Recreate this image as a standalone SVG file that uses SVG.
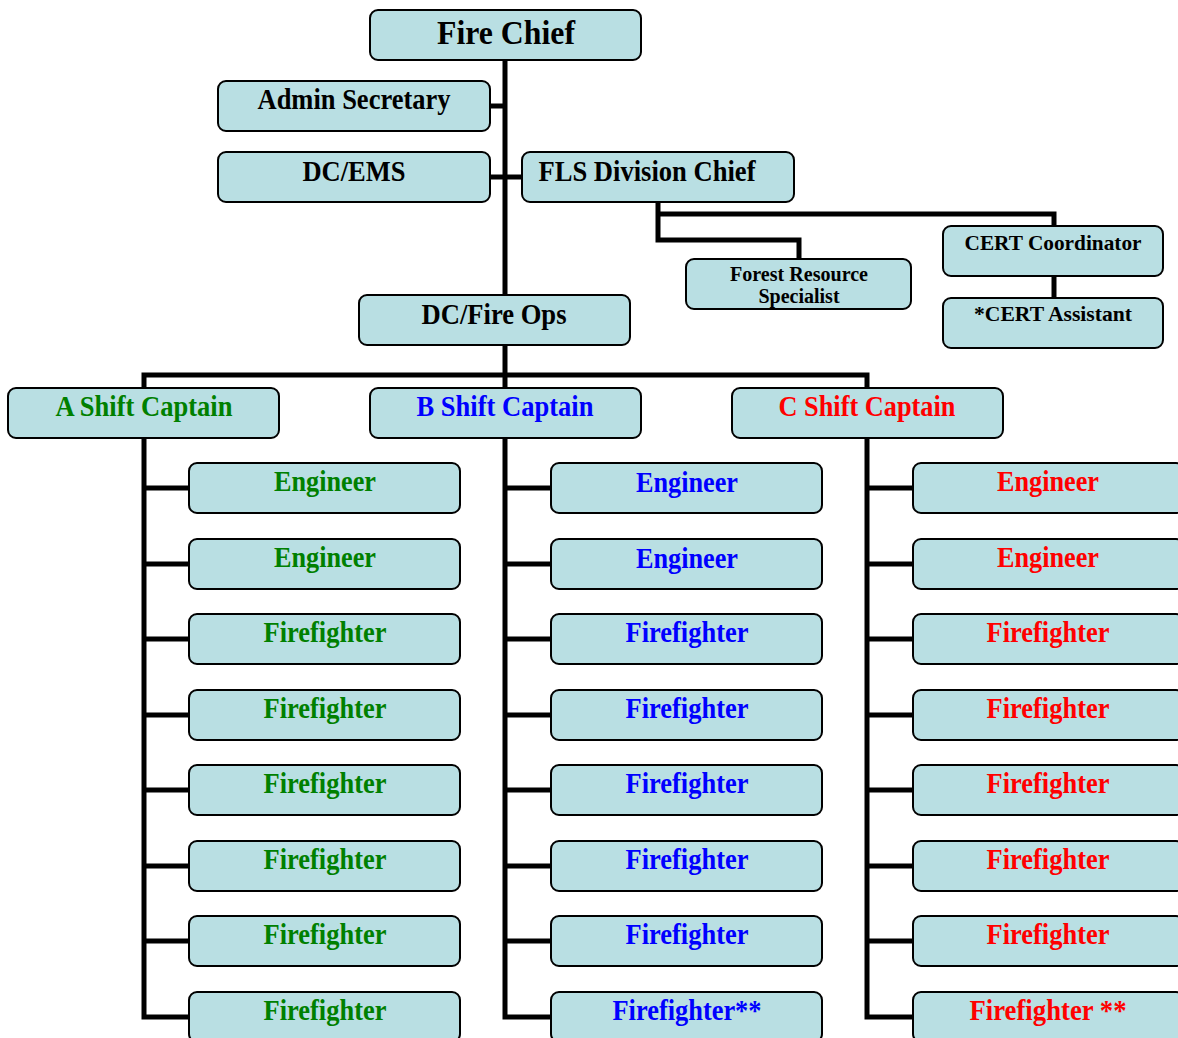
<svg xmlns="http://www.w3.org/2000/svg" width="1178" height="1038" viewBox="0 0 1178 1038">
<style>
.box{fill:#b9dfe3;stroke:#000;stroke-width:2}
.t{font-family:"Liberation Serif","Times New Roman",serif;font-weight:bold;text-anchor:middle;fill:#000}
.s26{font-size:29px}
.s20{font-size:20px}
.g{fill:#008000}.b{fill:#0000ff}.r{fill:#ff0000}
.c{fill:none;stroke:#000;stroke-width:5;stroke-linejoin:miter}
</style>
<rect width="1178" height="1038" fill="#fff"/>
<g id="connectors">
<path class="c" d="M505 60 V295"/>
<path class="c" d="M490 106 H505"/>
<path class="c" d="M490 177 H522"/>
<path class="c" d="M658 202 V240 H799 V259"/>
<path class="c" d="M658 214 H1054 V226"/>
<path class="c" d="M1054 276 V298"/>
<path class="c" d="M505 345 V388"/>
<path class="c" d="M144 388 V375 H867 V388"/>
<path class="c" d="M144 438 V1017 H189"/>
<path class="c" d="M144 488 H189 M144 564 H189 M144 639 H189 M144 715 H189 M144 790 H189 M144 866 H189 M144 941 H189"/>
<path class="c" d="M505 438 V1017 H551"/>
<path class="c" d="M505 488 H551 M505 564 H551 M505 639 H551 M505 715 H551 M505 790 H551 M505 866 H551 M505 941 H551"/>
<path class="c" d="M867 438 V1017 H913"/>
<path class="c" d="M867 488 H913 M867 564 H913 M867 639 H913 M867 715 H913 M867 790 H913 M867 866 H913 M867 941 H913"/>
</g>
<g id="fire-chief"><rect class="box" x="370" y="10" width="271" height="50" rx="8"/><text class="t" x="506" y="44" font-size="34" textLength="138" lengthAdjust="spacingAndGlyphs">Fire Chief</text></g>
<g id="admin-secretary"><rect class="box" x="218" y="81" width="272" height="50" rx="8"/><text class="t s26" x="354" y="109" textLength="193" lengthAdjust="spacingAndGlyphs">Admin Secretary</text></g>
<g id="dc-ems"><rect class="box" x="218" y="152" width="272" height="50" rx="8"/><text class="t s26" x="354" y="181" textLength="103" lengthAdjust="spacingAndGlyphs">DC/EMS</text></g>
<g id="fls-division-chief"><rect class="box" x="522" y="152" width="272" height="50" rx="8"/><text class="t s26" x="647" y="181" textLength="217" lengthAdjust="spacingAndGlyphs">FLS Division Chief</text></g>
<g id="forest-resource-specialist"><rect class="box" x="686" y="259" width="225" height="50" rx="8"/><text class="t s20" x="799" y="281" textLength="138" lengthAdjust="spacingAndGlyphs">Forest Resource</text><text class="t s20" x="799" y="303">Specialist</text></g>
<g id="cert-coordinator"><rect class="box" x="943" y="226" width="220" height="50" rx="8"/><text class="t" x="1053" y="250" font-size="22" textLength="177" lengthAdjust="spacingAndGlyphs">CERT Coordinator</text></g>
<g id="cert-assistant"><rect class="box" x="943" y="298" width="220" height="50" rx="8"/><text class="t" x="1053" y="321" font-size="22" textLength="158" lengthAdjust="spacingAndGlyphs">*CERT Assistant</text></g>
<g id="dc-fire-ops"><rect class="box" x="359" y="295" width="271" height="50" rx="8"/><text class="t s26" x="494" y="324" textLength="145" lengthAdjust="spacingAndGlyphs">DC/Fire Ops</text></g>
<g id="a-shift-captain"><rect class="box" x="8" y="388" width="271" height="50" rx="8"/><text class="t s26 g" x="144" y="416" textLength="177" lengthAdjust="spacingAndGlyphs">A Shift Captain</text></g>
<g id="b-shift-captain"><rect class="box" x="370" y="388" width="271" height="50" rx="8"/><text class="t s26 b" x="505" y="416" textLength="177" lengthAdjust="spacingAndGlyphs">B Shift Captain</text></g>
<g id="c-shift-captain"><rect class="box" x="732" y="388" width="271" height="50" rx="8"/><text class="t s26 r" x="867" y="416" textLength="177" lengthAdjust="spacingAndGlyphs">C Shift Captain</text></g>
<g id="a-engineer-1"><rect class="box" x="189" y="463" width="271" height="50" rx="8"/><text class="t s26 g" x="325" y="491" textLength="102" lengthAdjust="spacingAndGlyphs">Engineer</text></g>
<g id="a-engineer-2"><rect class="box" x="189" y="539" width="271" height="50" rx="8"/><text class="t s26 g" x="325" y="567" textLength="102" lengthAdjust="spacingAndGlyphs">Engineer</text></g>
<g id="a-firefighter-1"><rect class="box" x="189" y="614" width="271" height="50" rx="8"/><text class="t s26 g" x="325" y="642" textLength="123" lengthAdjust="spacingAndGlyphs">Firefighter</text></g>
<g id="a-firefighter-2"><rect class="box" x="189" y="690" width="271" height="50" rx="8"/><text class="t s26 g" x="325" y="718" textLength="123" lengthAdjust="spacingAndGlyphs">Firefighter</text></g>
<g id="a-firefighter-3"><rect class="box" x="189" y="765" width="271" height="50" rx="8"/><text class="t s26 g" x="325" y="793" textLength="123" lengthAdjust="spacingAndGlyphs">Firefighter</text></g>
<g id="a-firefighter-4"><rect class="box" x="189" y="841" width="271" height="50" rx="8"/><text class="t s26 g" x="325" y="869" textLength="123" lengthAdjust="spacingAndGlyphs">Firefighter</text></g>
<g id="a-firefighter-5"><rect class="box" x="189" y="916" width="271" height="50" rx="8"/><text class="t s26 g" x="325" y="944" textLength="123" lengthAdjust="spacingAndGlyphs">Firefighter</text></g>
<g id="a-firefighter-6"><rect class="box" x="189" y="992" width="271" height="50" rx="8"/><text class="t s26 g" x="325" y="1020" textLength="123" lengthAdjust="spacingAndGlyphs">Firefighter</text></g>
<g id="b-engineer-1"><rect class="box" x="551" y="463" width="271" height="50" rx="8"/><text class="t s26 b" x="687" y="492" textLength="102" lengthAdjust="spacingAndGlyphs">Engineer</text></g>
<g id="b-engineer-2"><rect class="box" x="551" y="539" width="271" height="50" rx="8"/><text class="t s26 b" x="687" y="568" textLength="102" lengthAdjust="spacingAndGlyphs">Engineer</text></g>
<g id="b-firefighter-1"><rect class="box" x="551" y="614" width="271" height="50" rx="8"/><text class="t s26 b" x="687" y="642" textLength="123" lengthAdjust="spacingAndGlyphs">Firefighter</text></g>
<g id="b-firefighter-2"><rect class="box" x="551" y="690" width="271" height="50" rx="8"/><text class="t s26 b" x="687" y="718" textLength="123" lengthAdjust="spacingAndGlyphs">Firefighter</text></g>
<g id="b-firefighter-3"><rect class="box" x="551" y="765" width="271" height="50" rx="8"/><text class="t s26 b" x="687" y="793" textLength="123" lengthAdjust="spacingAndGlyphs">Firefighter</text></g>
<g id="b-firefighter-4"><rect class="box" x="551" y="841" width="271" height="50" rx="8"/><text class="t s26 b" x="687" y="869" textLength="123" lengthAdjust="spacingAndGlyphs">Firefighter</text></g>
<g id="b-firefighter-5"><rect class="box" x="551" y="916" width="271" height="50" rx="8"/><text class="t s26 b" x="687" y="944" textLength="123" lengthAdjust="spacingAndGlyphs">Firefighter</text></g>
<g id="b-firefighter-6"><rect class="box" x="551" y="992" width="271" height="50" rx="8"/><text class="t s26 b" x="687" y="1020" textLength="149" lengthAdjust="spacingAndGlyphs">Firefighter**</text></g>
<g id="c-engineer-1"><rect class="box" x="913" y="463" width="271" height="50" rx="8"/><text class="t s26 r" x="1048" y="491" textLength="102" lengthAdjust="spacingAndGlyphs">Engineer</text></g>
<g id="c-engineer-2"><rect class="box" x="913" y="539" width="271" height="50" rx="8"/><text class="t s26 r" x="1048" y="567" textLength="102" lengthAdjust="spacingAndGlyphs">Engineer</text></g>
<g id="c-firefighter-1"><rect class="box" x="913" y="614" width="271" height="50" rx="8"/><text class="t s26 r" x="1048" y="642" textLength="123" lengthAdjust="spacingAndGlyphs">Firefighter</text></g>
<g id="c-firefighter-2"><rect class="box" x="913" y="690" width="271" height="50" rx="8"/><text class="t s26 r" x="1048" y="718" textLength="123" lengthAdjust="spacingAndGlyphs">Firefighter</text></g>
<g id="c-firefighter-3"><rect class="box" x="913" y="765" width="271" height="50" rx="8"/><text class="t s26 r" x="1048" y="793" textLength="123" lengthAdjust="spacingAndGlyphs">Firefighter</text></g>
<g id="c-firefighter-4"><rect class="box" x="913" y="841" width="271" height="50" rx="8"/><text class="t s26 r" x="1048" y="869" textLength="123" lengthAdjust="spacingAndGlyphs">Firefighter</text></g>
<g id="c-firefighter-5"><rect class="box" x="913" y="916" width="271" height="50" rx="8"/><text class="t s26 r" x="1048" y="944" textLength="123" lengthAdjust="spacingAndGlyphs">Firefighter</text></g>
<g id="c-firefighter-6"><rect class="box" x="913" y="992" width="271" height="50" rx="8"/><text class="t s26 r" x="1048" y="1020" textLength="157" lengthAdjust="spacingAndGlyphs">Firefighter **</text></g>
</svg>
